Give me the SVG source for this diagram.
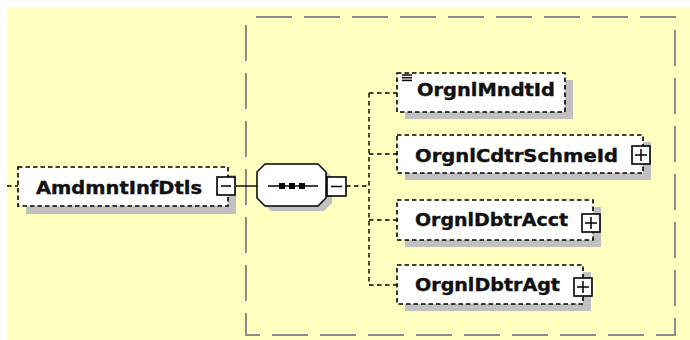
<svg xmlns="http://www.w3.org/2000/svg" width="690" height="340" viewBox="0 0 690 340">
<defs>
<style>
.bg{fill:#FFFFC0}
.frame{fill:none;stroke:#8c8c8c;stroke-width:2;stroke-dasharray:36 12}
.box{fill:#fff;stroke:#000;stroke-width:1.6;stroke-dasharray:4.5 3}
.shadow{fill:#c0c0c0}
.lbl{font-family:"DejaVu Sans","Liberation Sans",sans-serif;font-weight:bold;font-size:18px;fill:#111;stroke:#111;stroke-width:0.4}
.btn{fill:#fff;stroke:#000;stroke-width:1.6}
.sign{stroke:#000;stroke-width:1.5;fill:none}
.conn{stroke:#000;stroke-width:1.4;fill:none;stroke-dasharray:4.5 3.5}
.solid{stroke:#000;stroke-width:1.4;fill:none}
</style>
</defs>
<rect x="0" y="0" width="690" height="340" fill="#fff"/>
<rect class="bg" x="7" y="7" width="683" height="333"/>
<path class="frame" d="M246,17 L675,17 L675,335 L246,335 Z" stroke-dashoffset="-10"/>

<g id="connectors">
<line class="conn" x1="7" y1="186" x2="18" y2="186"/>
<line class="solid" x1="235" y1="186" x2="257" y2="186"/>
<line class="conn" x1="346" y1="186" x2="369" y2="186"/>
<line class="conn" x1="369" y1="93" x2="369" y2="285"/>
<line class="conn" x1="369" y1="93" x2="397" y2="93"/>
<line class="conn" x1="369" y1="154" x2="397" y2="154"/>
<line class="conn" x1="369" y1="220" x2="397" y2="220"/>
<line class="conn" x1="369" y1="285" x2="397" y2="285"/>
</g>

<g id="AmdmntInfDtls">
<rect class="shadow" x="26" y="175" width="210" height="39"/>
<rect class="box" x="18" y="167" width="210" height="39"/>
<text class="lbl" x="36" y="194" textLength="166" lengthAdjust="spacingAndGlyphs">AmdmntInfDtls</text>
<rect class="btn" x="217" y="177" width="18" height="18"/>
<line class="sign" x1="221" y1="186" x2="231" y2="186"/>
</g>

<g id="sequence">
<polygon class="shadow" points="263,171 271,163 324,163 332,171 332,197 324,205 271,205 263,197" transform="translate(0,6)"/>
<polygon points="257,172 265,164 318,164 326,172 326,198 318,206 265,206 257,198" fill="#fff" stroke="#000" stroke-width="1.5"/>
<line class="solid" x1="268" y1="186" x2="318" y2="186"/>
<rect x="279" y="183" width="6" height="6" fill="#000"/>
<rect x="289" y="183" width="6" height="6" fill="#000"/>
<rect x="299" y="183" width="6" height="6" fill="#000"/>
<rect class="btn" x="327" y="177" width="19" height="19"/>
<line class="sign" x1="331" y1="186.5" x2="342" y2="186.5"/>
</g>

<g id="OrgnlMndtId">
<rect class="shadow" x="405" y="80" width="168" height="39"/>
<rect class="box" x="397" y="73" width="168" height="39"/>
<line class="sign" x1="402" y1="75" x2="412" y2="75" stroke-width="1.2"/>
<line class="sign" x1="402" y1="77.7" x2="412" y2="77.7" stroke-width="1.2"/>
<line class="sign" x1="402" y1="80.4" x2="412" y2="80.4" stroke-width="1.2"/>
<text class="lbl" x="417" y="96" textLength="138" lengthAdjust="spacingAndGlyphs">OrgnlMndtId</text>
</g>

<g id="OrgnlCdtrSchmeId">
<rect class="shadow" x="405" y="142" width="246" height="38"/>
<rect class="box" x="397" y="135" width="246" height="38"/>
<text class="lbl" x="415" y="162" textLength="203" lengthAdjust="spacingAndGlyphs">OrgnlCdtrSchmeId</text>
<rect class="btn" x="632" y="146" width="18" height="18"/>
<line class="sign" x1="635" y1="155" x2="647" y2="155"/>
<line class="sign" x1="641" y1="149" x2="641" y2="161"/>
</g>

<g id="OrgnlDbtrAcct">
<rect class="shadow" x="405" y="207" width="196" height="40"/>
<rect class="box" x="397" y="200" width="196" height="40"/>
<text class="lbl" x="415" y="226" textLength="153" lengthAdjust="spacingAndGlyphs">OrgnlDbtrAcct</text>
<rect class="btn" x="582" y="214" width="18" height="18"/>
<line class="sign" x1="585" y1="223" x2="597" y2="223"/>
<line class="sign" x1="591" y1="217" x2="591" y2="229"/>
</g>

<g id="OrgnlDbtrAgt">
<rect class="shadow" x="405" y="272" width="186" height="39"/>
<rect class="box" x="397" y="265" width="186" height="39"/>
<text class="lbl" x="415" y="291" textLength="145" lengthAdjust="spacingAndGlyphs">OrgnlDbtrAgt</text>
<rect class="btn" x="574" y="278" width="18" height="18"/>
<line class="sign" x1="577" y1="287" x2="589" y2="287"/>
<line class="sign" x1="583" y1="281" x2="583" y2="293"/>
</g>
</svg>
